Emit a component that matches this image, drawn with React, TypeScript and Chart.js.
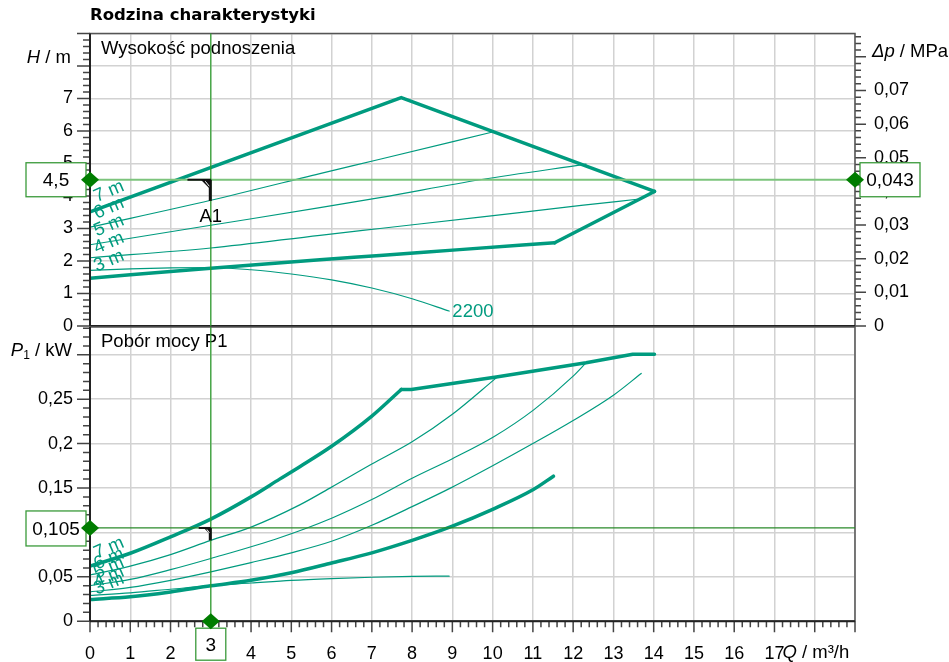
import React, { useEffect, useRef } from 'react';
import { Chart, registerables } from 'chart.js';
Chart.register(...registerables);

const TITLE = 'Rodzina charakterystyki';
const HEAD_PANEL = 'Wysokość podnoszenia';
const POWER_PANEL = 'Pobór mocy P1';
const TEAL = '#009b7f';
const GRID = '#d2d2d2';
const TICK = '#444';
const FONT = "'Liberation Sans', Arial, sans-serif";

const Q_MAX = 19;
const Q_LABEL_MAX = 17;
const H_MAX = 9;
const H_LABEL_MAX = 7;
const DP_PER_M = 0.00966;
const DP_LABEL_MAX = 0.075;
const P_MAX = 0.3313;
const P_LABEL_MAX = 0.28;

// operating point
const OP_Q = 3;
const OP_H = 4.5;
const OP_H_TEXT = '4,5';
const OP_DP_TEXT = '0,043';
const OP_P = 0.105;
const OP_P_TEXT = '0,105';
const OP_Q_TEXT = '3';
const OP_H_ON_CURVE = 3.85;
const OP_P_ON_CURVE = 0.091;
const OP_NAME = 'A1';

// head curves: [Q m³/h, H m]
const headMaxPts = [[0, 3.51], [7.73, 7.03], [14.02, 4.14]];
const headMinPts = [[0, 1.47], [3, 1.78], [5.71, 2.04], [7.2, 2.17], [9.18, 2.35], [11.54, 2.56]];
const headMinEndPts = [[11.54, 2.56], [14.02, 4.14]];
const head6Pts = [[0, 3.04], [3, 3.87], [5.71, 4.69], [7.2, 5.13], [10.0, 5.97]];
const head5Pts = [[0, 2.5], [3, 3.1], [5.71, 3.64], [7.2, 3.95], [9.69, 4.5], [12.32, 4.98]];
const head4Pts = [[0, 2.1], [3, 2.4], [5.71, 2.79], [7.2, 3.0], [9.69, 3.35], [12.2, 3.71], [13.59, 3.9]];
const head2200Pts = [[0, 1.71], [1, 1.76], [2, 1.79], [3, 1.8], [4, 1.73], [5, 1.6], [6, 1.42], [7, 1.17], [8, 0.84], [8.92, 0.46]];

// power curves: [Q m³/h, P1 kW]
const powerMaxPts = [[0, 0.062], [1, 0.0765], [2, 0.095], [3, 0.115], [4, 0.14], [4.71, 0.16], [5.21, 0.174], [6, 0.197], [7, 0.231], [7.73, 0.261]];
const powerMaxEndPts = [[7.73, 0.261], [7.98, 0.261], [10.09, 0.275], [12.32, 0.291], [13.48, 0.3007], [14.02, 0.3007]];
const powerMinPts = [[0, 0.0245], [1, 0.0275], [2, 0.033], [3, 0.0398], [4, 0.046], [5, 0.0545], [6, 0.0655], [7, 0.077], [8, 0.091], [9, 0.107], [10, 0.126], [11, 0.148], [11.51, 0.1633]];
const power6Pts = [[0, 0.052], [1, 0.062], [2, 0.075], [3, 0.091], [4, 0.106], [5.21, 0.131], [6, 0.151], [7, 0.177], [8, 0.202], [9, 0.233], [10.09, 0.274]];
const power5Pts = [[0, 0.04], [1, 0.047], [2, 0.058], [3, 0.0706], [4.71, 0.094], [6, 0.116], [7, 0.137], [8, 0.161], [9, 0.183], [10.04, 0.208], [11.02, 0.238], [12, 0.276], [12.32, 0.291]];
const power4Pts = [[0, 0.033], [1, 0.038], [2, 0.046], [3, 0.0556], [4, 0.066], [5, 0.077], [6, 0.09], [7, 0.108], [8, 0.129], [9, 0.151], [10, 0.175], [11, 0.2], [12, 0.226], [13, 0.2545], [13.69, 0.279]];
const power2200Pts = [[0, 0.029], [1, 0.032], [2, 0.036], [3, 0.04], [4, 0.043], [5, 0.046], [6, 0.048], [7, 0.0495], [8, 0.0505], [8.92, 0.0507]];

// curve labels
const curveLabels = ['7 m', '6 m', '5 m', '4 m', '3 m'];
const LABEL_Q = 0.47;
const headLabelH = [4.14, 3.62, 3.08, 2.55, 2.0];
const powerLabelP = [0.0824, 0.07, 0.06, 0.0498, 0.0419];
const SPEED_LABEL = '2200';
const SPEED_LABEL_Q = 9.0;
const SPEED_LABEL_H = 0.42;

function fmt(v: number) {
  const r = Math.round(v * 10000) / 10000;
  return String(r).replace('.', ',');
}

const ds = (pts: number[][], width: number, smooth: boolean) => ({
  data: pts.map(([x, y]) => ({ x, y })),
  borderColor: TEAL,
  borderWidth: width,
  pointRadius: 0,
  fill: false,
  tension: 0,
  cubicInterpolationMode: smooth ? 'monotone' : 'default',
  borderCapStyle: 'round',
  borderJoinStyle: 'round',
});

function runFont(r: any) {
  return `${r.italic ? 'italic ' : ''}${r.size || 18.5}px ${FONT}`;
}
function drawRuns(ctx: any, runs: any[], x: number, y: number, align: string) {
  let total = 0;
  for (const r of runs) { ctx.font = runFont(r); total += ctx.measureText(r.t).width; }
  let cx = align === 'right' ? x - total : x;
  ctx.textAlign = 'left';
  ctx.textBaseline = 'alphabetic';
  for (const r of runs) {
    ctx.font = runFont(r);
    ctx.fillText(r.t, cx, y + (r.dy || 0));
    cx += ctx.measureText(r.t).width;
  }
}
function drawAxisTicks(ctx: any, scale: any, from: number, to: number, step: number, majorEvery: number, fixed: number, dir: number, majorLen: number, minorLen: number, vertical: boolean) {
  const n = Math.round((to - from) / step);
  ctx.beginPath();
  for (let i = 0; i <= n; i++) {
    const v = from + i * step;
    const p = scale.getPixelForValue(v);
    const len = i % majorEvery === 0 ? majorLen : minorLen;
    if (vertical) { ctx.moveTo(fixed, p); ctx.lineTo(fixed + dir * len, p); }
    else { ctx.moveTo(p, fixed); ctx.lineTo(p, fixed + dir * len); }
  }
  ctx.stroke();
}
function line(ctx: any, x1: number, y1: number, x2: number, y2: number) {
  ctx.beginPath(); ctx.moveTo(x1, y1); ctx.lineTo(x2, y2); ctx.stroke();
}
function diamond(ctx: any, x: number, y: number) {
  ctx.fillStyle = '#007d00';
  ctx.beginPath();
  ctx.moveTo(x - 9, y); ctx.lineTo(x, y - 8); ctx.lineTo(x + 9, y); ctx.lineTo(x, y + 8);
  ctx.closePath(); ctx.fill();
}
function box(ctx: any, x1: number, y1: number, x2: number, y2: number, text: string, ty?: number) {
  ctx.fillStyle = '#fff';
  ctx.fillRect(x1, y1, x2 - x1, y2 - y1);
  ctx.strokeStyle = '#3a9a3a'; ctx.lineWidth = 1.3;
  ctx.strokeRect(x1, y1, x2 - x1, y2 - y1);
  ctx.fillStyle = '#000';
  ctx.font = `19px ${FONT}`;
  ctx.textAlign = 'center'; ctx.textBaseline = 'middle';
  ctx.fillText(text, (x1 + x2) / 2, ty !== undefined ? ty : (y1 + y2) / 2 + 1);
}
function corner(ctx: any, qx: number, y: number, x0: number, yEnd: number, size: number) {
  ctx.strokeStyle = '#111';
  ctx.lineWidth = 2; line(ctx, x0, y, qx, y);
  ctx.lineWidth = 3; line(ctx, qx - 0.5, y, qx - 0.5, yEnd);
  ctx.fillStyle = '#111';
  ctx.beginPath(); ctx.moveTo(qx - size, y); ctx.lineTo(qx, y); ctx.lineTo(qx, y + size); ctx.closePath(); ctx.fill();
  ctx.strokeStyle = '#fff'; ctx.lineWidth = 1;
  line(ctx, qx - size * 0.55, y + 1.5, qx - 1.5, y + size * 0.55 + 1);
}
function frame(ctx: any, a: any) {
  ctx.strokeStyle = '#555'; ctx.lineWidth = 1.5;
  ctx.strokeRect(a.left, a.top, a.right - a.left, a.bottom - a.top);
  ctx.strokeStyle = '#222'; ctx.lineWidth = 2;
  line(ctx, a.left, a.top, a.left, a.bottom);
  line(ctx, a.left, a.bottom, a.right, a.bottom);
}
function curveLabel(ctx: any, text: string, x: number, y: number) {
  ctx.save();
  ctx.translate(x, y);
  ctx.rotate(-23 * Math.PI / 180);
  ctx.fillStyle = TEAL;
  ctx.font = `18.5px ${FONT}`;
  ctx.textAlign = 'center'; ctx.textBaseline = 'middle';
  ctx.fillText(text, 0, 0);
  ctx.restore();
}

const topOverlay = {
  id: 'topOverlay',
  afterDraw(chart: any) {
    const { ctx, chartArea: a } = chart;
    const x = chart.scales.x, y = chart.scales.y, yr = chart.scales.yDp;
    ctx.save();
    ctx.strokeStyle = TICK; ctx.lineWidth = 1.5;
    drawAxisTicks(ctx, y, 0, H_MAX, 0.2, 5, a.left, -1, 13, 7, true);
    drawAxisTicks(ctx, yr, 0, 0.086, 0.002, 5, a.right, 1, 11, 6, true);
    frame(ctx, a);
    ctx.fillStyle = '#000';
    ctx.font = `bold 16.5px 'DejaVu Sans', Verdana, sans-serif`;
    ctx.textAlign = 'left'; ctx.textBaseline = 'alphabetic';
    ctx.fillText(TITLE, a.left, 20);
    ctx.font = `18.5px ${FONT}`;
    ctx.fillText(HEAD_PANEL, a.left + 11, a.top + 20);
    drawRuns(ctx, [{ t: 'H', italic: true }, { t: ' / m' }], a.left - 19, y.getPixelForValue(8) - 3, 'right');
    drawRuns(ctx, [{ t: 'Δp', italic: true }, { t: ' / MPa' }], a.right + 17, yr.getPixelForValue(0.08), 'left');
    curveLabels.forEach((t, i) => curveLabel(ctx, t, x.getPixelForValue(LABEL_Q), y.getPixelForValue(headLabelH[i])));
    ctx.fillStyle = TEAL; ctx.font = `18.5px ${FONT}`;
    ctx.textAlign = 'left'; ctx.textBaseline = 'middle';
    ctx.fillText(SPEED_LABEL, x.getPixelForValue(SPEED_LABEL_Q), y.getPixelForValue(SPEED_LABEL_H));
    const qx = x.getPixelForValue(OP_Q);
    const hy = y.getPixelForValue(OP_H);
    ctx.strokeStyle = '#7cc47c'; ctx.lineWidth = 2;
    line(ctx, a.left, hy, a.right, hy);
    ctx.strokeStyle = '#2a9e2a'; ctx.lineWidth = 1.2;
    line(ctx, qx, a.top, qx, a.bottom);
    corner(ctx, qx, hy, x.getPixelForValue(2.42), y.getPixelForValue(OP_H_ON_CURVE), 10);
    ctx.fillStyle = '#000'; ctx.font = `18.5px ${FONT}`;
    ctx.textAlign = 'center'; ctx.textBaseline = 'middle';
    ctx.fillText(OP_NAME, qx, y.getPixelForValue(3.37));
    box(ctx, a.left - 64, hy - 17, a.left - 4, hy + 17, OP_H_TEXT);
    box(ctx, a.right + 5, hy - 17, a.right + 65, hy + 17, OP_DP_TEXT);
    diamond(ctx, a.left, hy);
    diamond(ctx, a.right, hy);
    ctx.restore();
  },
};

const bottomOverlay = {
  id: 'bottomOverlay',
  afterDraw(chart: any) {
    const { ctx, chartArea: a } = chart;
    const x = chart.scales.x, y = chart.scales.y;
    ctx.save();
    ctx.strokeStyle = TICK; ctx.lineWidth = 1.5;
    drawAxisTicks(ctx, y, 0, 0.33, 0.01, 5, a.left, -1, 13, 7, true);
    drawAxisTicks(ctx, x, 0, Q_MAX, 0.2, 5, a.bottom, 1, 11, 6, false);
    frame(ctx, a);
    ctx.fillStyle = '#000';
    ctx.font = `18.5px ${FONT}`;
    ctx.textAlign = 'left'; ctx.textBaseline = 'alphabetic';
    ctx.fillText(POWER_PANEL, a.left + 11, a.top + 20);
    drawRuns(ctx, [{ t: 'P', italic: true }, { t: '1', size: 12, dy: 3 }, { t: ' / kW' }], a.left - 18, y.getPixelForValue(0.3) + 1, 'right');
    drawRuns(ctx, [{ t: 'Q', italic: true }, { t: ' / m³/h' }], x.getPixelForValue(Q_LABEL_MAX) + 8, a.bottom + 37, 'left');
    curveLabels.forEach((t, i) => curveLabel(ctx, t, x.getPixelForValue(LABEL_Q), y.getPixelForValue(powerLabelP[i])));
    const qx = x.getPixelForValue(OP_Q);
    const py = y.getPixelForValue(OP_P);
    ctx.strokeStyle = '#2a8a2a'; ctx.lineWidth = 1.2;
    line(ctx, a.left, py, a.right, py);
    ctx.strokeStyle = '#2a9e2a'; ctx.lineWidth = 1.2;
    line(ctx, qx, a.top, qx, a.bottom + 8);
    corner(ctx, qx, py, x.getPixelForValue(2.7), y.getPixelForValue(OP_P_ON_CURVE), 7);
    box(ctx, a.left - 64, py - 17, a.left - 4, py + 18, OP_P_TEXT);
    box(ctx, qx - 15, a.bottom + 7, qx + 15, a.bottom + 39, OP_Q_TEXT, a.bottom + 25);
    diamond(ctx, a.left, py);
    diamond(ctx, qx, a.bottom);
    ctx.restore();
  },
};

const tickFont = { family: FONT, size: 18 };

function topConfig(): any {
  return {
    type: 'line',
    data: {
      datasets: [
        ds(head6Pts, 1.2, true),
        ds(head5Pts, 1.2, true),
        ds(head4Pts, 1.2, true),
        ds(head2200Pts, 1.2, true),
        ds(headMaxPts, 3.5, false),
        ds(headMinPts, 3.5, true),
        ds(headMinEndPts, 3.5, false),
      ],
    },
    options: {
      responsive: false, animation: false, events: [],
      layout: { padding: { top: 33.5, left: 0, right: 0, bottom: 0 } },
      plugins: { legend: { display: false }, tooltip: { enabled: false } },
      scales: {
        x: {
          type: 'linear', min: 0, max: Q_MAX,
          ticks: { display: false, stepSize: 1 },
          grid: { color: GRID, lineWidth: 1.5, drawTicks: false },
          border: { display: false },
          afterFit: (s: any) => { s.height = 14; s.paddingLeft = 0; s.paddingRight = 0; },
        },
        y: {
          type: 'linear', position: 'left', min: 0, max: H_MAX,
          ticks: { stepSize: 1, padding: 17, color: '#000', font: tickFont, includeBounds: false, callback: (v: number) => (v <= H_LABEL_MAX ? fmt(v) : '') },
          grid: { color: GRID, lineWidth: 1.5, drawTicks: false },
          border: { display: false },
          afterFit: (s: any) => { s.width = 90; s.paddingTop = 0; s.paddingBottom = 0; },
        },
        yDp: {
          type: 'linear', position: 'right', min: 0, max: H_MAX * DP_PER_M,
          ticks: { stepSize: 0.01, padding: 19, color: '#000', font: tickFont, includeBounds: false, callback: (v: number) => (v <= DP_LABEL_MAX ? fmt(v) : '') },
          grid: { drawOnChartArea: false, drawTicks: false },
          border: { display: false },
          afterFit: (s: any) => { s.width = 94; s.paddingTop = 0; s.paddingBottom = 0; },
        },
      },
    },
    plugins: [topOverlay],
  };
}

function bottomConfig(): any {
  return {
    type: 'line',
    data: {
      datasets: [
        ds(power6Pts, 1.2, true),
        ds(power5Pts, 1.2, true),
        ds(power4Pts, 1.2, true),
        ds(power2200Pts, 1.2, true),
        ds(powerMaxPts, 3.5, true),
        ds(powerMaxEndPts, 3.5, false),
        ds(powerMinPts, 3.5, true),
      ],
    },
    options: {
      responsive: false, animation: false, events: [],
      layout: { padding: { top: 1, left: 0, right: 94, bottom: 0 } },
      plugins: { legend: { display: false }, tooltip: { enabled: false } },
      scales: {
        x: {
          type: 'linear', min: 0, max: Q_MAX,
          ticks: { stepSize: 1, padding: 22, color: '#000', font: tickFont, maxRotation: 0, autoSkip: false, includeBounds: false, callback: (v: number) => (v <= Q_LABEL_MAX ? String(v) : '') },
          grid: { color: GRID, lineWidth: 1.5, drawTicks: false },
          border: { display: false },
          afterFit: (s: any) => { s.height = 40.8; s.paddingLeft = 0; s.paddingRight = 0; },
        },
        y: {
          type: 'linear', position: 'left', min: 0, max: P_MAX,
          ticks: { stepSize: 0.05, padding: 17, color: '#000', font: tickFont, includeBounds: false, callback: (v: number) => (v <= P_LABEL_MAX ? fmt(v) : '') },
          grid: { color: GRID, lineWidth: 1.5, drawTicks: false },
          border: { display: false },
          afterFit: (s: any) => { s.width = 90; s.paddingTop = 0; s.paddingBottom = 0; },
        },
      },
    },
    plugins: [bottomOverlay],
  };
}

export default function App() {
  const topRef = useRef<HTMLCanvasElement>(null);
  const botRef = useRef<HTMLCanvasElement>(null);
  useEffect(() => {
    const top = new Chart(topRef.current as HTMLCanvasElement, topConfig());
    const bot = new Chart(botRef.current as HTMLCanvasElement, bottomConfig());
    return () => { top.destroy(); bot.destroy(); };
  }, []);
  return (
    <div style={{ position: 'absolute', left: 0, top: 0, width: 949, height: 662, background: '#fff' }}>
      <canvas ref={topRef} width={949} height={340} style={{ position: 'absolute', left: 0, top: 0 }} />
      <canvas ref={botRef} width={949} height={336} style={{ position: 'absolute', left: 0, top: 326 }} />
    </div>
  );
}
